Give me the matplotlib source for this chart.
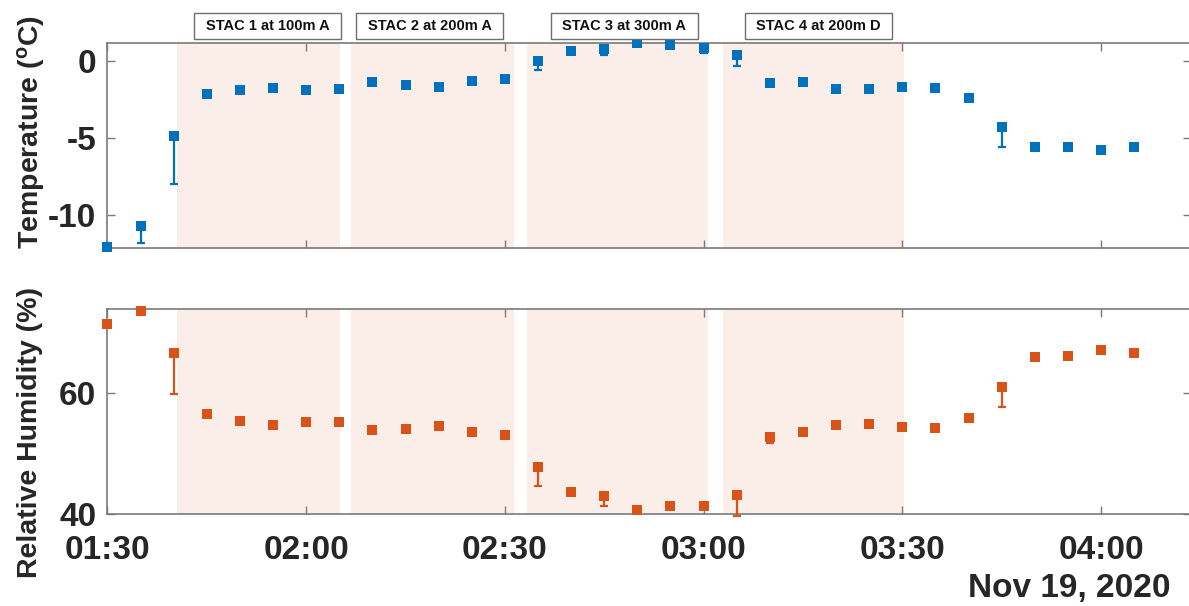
import matplotlib
matplotlib.use("Agg")
import matplotlib.pyplot as plt
import matplotlib.dates as mdates
import matplotlib.transforms as mtransforms
from matplotlib.patches import Rectangle
import pandas as pd

plt.rcParams['font.family'] = ['Liberation Sans', 'DejaVu Sans']
plt.rcParams['font.weight'] = 'bold'
plt.rcParams['axes.unicode_minus'] = False
plt.rcParams['mathtext.fontset'] = 'custom'
plt.rcParams['mathtext.rm'] = 'Liberation Sans:bold'
plt.rcParams['mathtext.bf'] = 'Liberation Sans:bold'
plt.rcParams['mathtext.default'] = 'bf'

DAY = "2020-11-19 "

# Sample times (5-minute averages)
times = ["01:30", "01:35", "01:40", "01:45", "01:50", "01:55", "02:00", "02:05",
         "02:10", "02:15", "02:20", "02:25", "02:30", "02:35", "02:40", "02:45",
         "02:50", "02:55", "03:00", "03:05", "03:10", "03:15", "03:20", "03:25",
         "03:30", "03:35", "03:40", "03:45", "03:50", "03:55", "04:00", "04:05"]

temperature = [-12.1, -10.7, -4.85, -2.1, -1.88, -1.75, -1.84, -1.82,
               -1.32, -1.51, -1.69, -1.25, -1.12, 0.06, 0.65, 0.82,
               1.19, 1.04, 0.87, 0.43, -1.41, -1.36, -1.8, -1.8,
               -1.64, -1.73, -2.36, -4.27, -5.56, -5.56, -5.76, -5.56]
temperature_low_err = [0, 1.1, 3.1, 0, 0, 0, 0, 0,
                       0, 0, 0, 0, 0, 0.6, 0, 0.4,
                       0, 0, 0.3, 0.7, 0, 0, 0, 0,
                       0, 0, 0, 1.3, 0, 0, 0, 0]

humidity = [71.45, 73.55, 66.6, 56.47, 55.37, 54.77, 55.2, 55.2,
            53.88, 54.0, 54.6, 53.6, 53.06, 47.8, 43.7, 42.98,
            40.66, 41.4, 41.4, 43.1, 52.78, 53.5, 54.7, 54.87,
            54.38, 54.27, 55.8, 61.05, 66.0, 66.17, 67.1, 66.67]
humidity_low_err = [0, 0.6, 6.8, 0, 0, 0, 0, 0,
                    0, 0, 0, 0, 0, 3.1, 0, 1.6,
                    0, 0, 0, 3.4, 1.1, 0, 0, 0,
                    0, 0, 0, 3.3, 0, 0, 0, 0]

# Sampling periods of each STAC flight
stac_labels = ["STAC 1 at 100m A", "STAC 2 at 200m A",
               "STAC 3 at 300m A", "STAC 4 at 200m D"]
stac_start = ["01:40:30", "02:06:48", "02:33:18", "03:03:00"]
stac_end = ["02:05:06", "02:31:24", "03:00:36", "03:30:18"]
stac_label_center = ["01:54:11", "02:18:40", "02:48:02", "03:17:21"]

x_ticks = ["01:30", "02:00", "02:30", "03:00", "03:30", "04:00"]
x_range = ["01:30", "04:13:30"]
temp_ticks = [-10, -5, 0]
temp_range = [-12.15, 1.2]
rh_ticks = [40, 60]
rh_range = [40, 73.9]

BLUE = "#0072BD"
ORANGE = "#D95319"
TEXT = "#262626"
SPINE = "#7a7a7a"


def ts(s):
    return pd.Timestamp(DAY + s)


t = [ts(s) for s in times]

fig = plt.figure(figsize=(11.89, 6.06), dpi=100)
W, H = 1189, 606
left = 107.4 / W
right = 1190.5 / W
ax1 = fig.add_axes([left, 1 - 248 / H, right - left, (248 - 43) / H])
ax2 = fig.add_axes([left, 1 - 514 / H, right - left, (514 - 309) / H], sharex=ax1)

for ax, vals, err, col, yt, yr in [
        (ax1, temperature, temperature_low_err, BLUE, temp_ticks, temp_range),
        (ax2, humidity, humidity_low_err, ORANGE, rh_ticks, rh_range)]:
    for s0, s1 in zip(stac_start, stac_end):
        ax.axvspan(ts(s0), ts(s1), color=ORANGE, alpha=0.1, lw=0, zorder=0)
    # lower error whiskers, then the square markers on top
    ax.errorbar(t, vals, yerr=[err, [0] * len(err)], fmt='none', ecolor=col,
                elinewidth=1.6, capsize=3.2, capthick=1.6,
                clip_on=False, zorder=3)
    ax.plot(t, vals, 's', color=col, ms=7.5, mew=0, clip_on=False, zorder=4)
    ax.set_ylim(yr)
    ax.set_yticks(yt)
    ax.tick_params(axis='both', direction='in', length=6, width=1.0,
                   color=SPINE, labelcolor=TEXT, labelsize=24,
                   top=True, right=True)
    ax.tick_params(axis='y', pad=8)
    for sp in ax.spines.values():
        sp.set_color(SPINE)
        sp.set_linewidth(1.2)
    ax.set_facecolor('none')

ax1.set_xlim(ts(x_range[0]), ts(x_range[1]))
ax1.set_xticks([ts(s) for s in x_ticks])
ax1.xaxis.set_major_formatter(mdates.DateFormatter('%H:%M'))
ax1.tick_params(axis='x', labelbottom=False)
ax2.tick_params(axis='x', pad=15)
for lab in ax1.get_yticklabels() + ax2.get_yticklabels() + ax2.get_xticklabels():
    lab.set_fontweight('bold')

# STAC labels above the temperature panel
blend = mtransforms.blended_transform_factory(ax1.transData, fig.transFigure)
half_w = pd.Timedelta(minutes=11.1)
for lab, c in zip(stac_labels, stac_label_center):
    cx = ts(c)
    x0 = mdates.date2num(cx - half_w)
    x1 = mdates.date2num(cx + half_w)
    fig.patches.append(Rectangle((x0, 1 - 39 / H), x1 - x0, 26 / H,
                                 transform=blend, facecolor='white',
                                 edgecolor='#6e6e6e', lw=1.0))
    fig.text(mdates.date2num(cx), 1 - 26 / H, lab, transform=blend,
             ha='center', va='center', fontsize=10.5, fontweight='bold',
             color='#111111')

fig.text(31 / W, 1 - 132 / H, r'Temperature ($^{o}$C)', rotation=90,
         ha='center', va='center', fontsize=20.5, fontweight='bold', color=TEXT)
fig.text(30 / W, 1 - 433 / H, 'Relative Humidity (%)', rotation=90,
         ha='center', va='center', fontsize=20.5, fontweight='bold', color=TEXT)
fig.text(1170 / W, 1 - 588 / H, 'Nov 19, 2020', ha='right', va='center',
         fontsize=24, fontweight='bold', color=TEXT)

fig.savefig('out.png', dpi=100)
